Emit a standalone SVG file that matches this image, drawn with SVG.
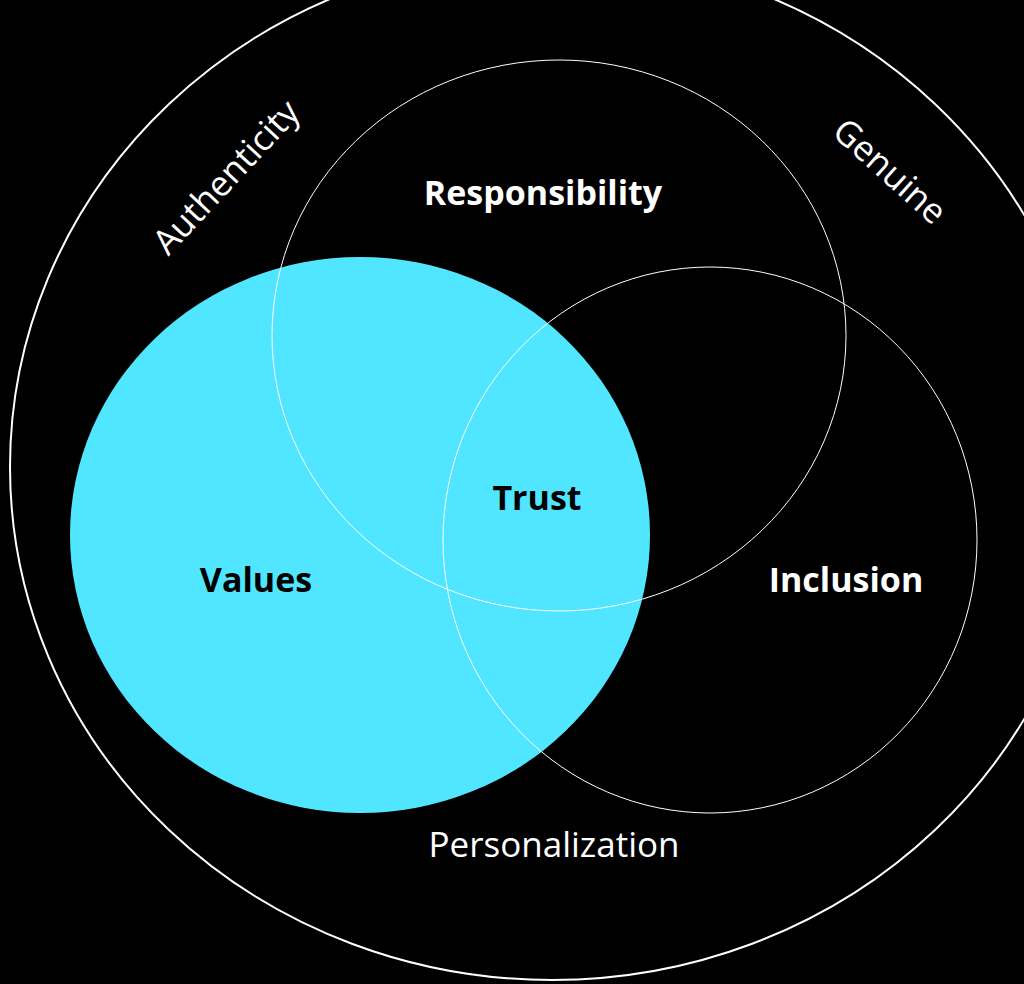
<svg xmlns="http://www.w3.org/2000/svg" width="1024" height="984" viewBox="0 0 1024 984">
  <style>
    .ring { fill: none; stroke: #ffffff; stroke-width: 1; }
    .outer { fill: none; stroke: #ffffff; stroke-width: 2; }
    .lbl { font-family: "Segoe UI", "Open Sans", "Noto Sans", sans-serif; font-weight: 700; font-size: 34px; text-anchor: middle; }
    .thin { font-family: "Segoe UI", "Open Sans", "Noto Sans", sans-serif; font-weight: 400; font-size: 35px; text-anchor: middle; fill: #ffffff; }
  </style>
  <rect x="0" y="0" width="1024" height="984" fill="#000000"/>
  <g id="outer">
    <ellipse class="outer" cx="552" cy="467" rx="542" ry="513"/>
    <text class="thin" transform="translate(226,177) rotate(-47)" dy="0.35em">Authenticity</text>
    <text class="thin" transform="translate(890,171) rotate(42)" dy="0.35em">Genuine</text>
    <text class="thin" x="554" y="857">Personalization</text>
  </g>
  <g id="values">
    <ellipse cx="360" cy="535" rx="290" ry="278" fill="#50E6FF"/>
  </g>
  <g id="responsibility">
    <ellipse class="ring" cx="559" cy="335.5" rx="287" ry="275.5"/>
    <text class="lbl" x="543" y="205" fill="#ffffff">Responsibility</text>
  </g>
  <g id="inclusion">
    <ellipse class="ring" cx="710" cy="540" rx="267" ry="273"/>
    <text class="lbl" x="846" y="592" fill="#ffffff">Inclusion</text>
  </g>
  <g id="labels-values">
    <text class="lbl" x="256" y="592" fill="#000000">Values</text>
    <text class="lbl" x="537" y="510" fill="#000000">Trust</text>
  </g>
  <g id="connectors"></g>
</svg>
